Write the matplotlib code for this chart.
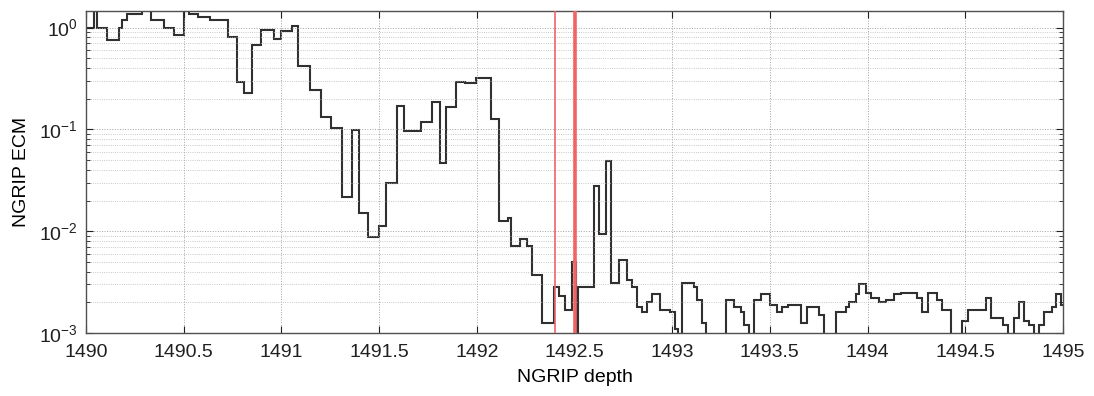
import matplotlib
matplotlib.use('Agg')
import matplotlib.pyplot as plt
from matplotlib.ticker import MultipleLocator, FormatStrFormatter, LogLocator

plt.rcParams['font.family'] = ['Liberation Sans', 'DejaVu Sans']
plt.rcParams['mathtext.default'] = 'regular'

# step edges (depth, m) and ECM value inside each step
depth_edges = [
    1490.000, 1490.041, 1490.056, 1490.107, 1490.169, 1490.184, 1490.210, 1490.287,
    1490.333, 1490.399, 1490.450, 1490.502, 1490.527, 1490.573, 1490.635, 1490.727,
    1490.773, 1490.809, 1490.850, 1490.896, 1490.962, 1490.998, 1491.054, 1491.085,
    1491.146, 1491.203, 1491.254, 1491.310, 1491.361, 1491.397, 1491.443, 1491.500,
    1491.535, 1491.592, 1491.627, 1491.714, 1491.771, 1491.812, 1491.842, 1491.894,
    1491.940, 1491.996, 1492.073, 1492.114, 1492.160, 1492.175, 1492.221, 1492.257,
    1492.283, 1492.334, 1492.395, 1492.421, 1492.451, 1492.487, 1492.508, 1492.518,
    1492.600, 1492.625, 1492.661, 1492.687, 1492.728, 1492.769, 1492.794, 1492.820,
    1492.845, 1492.871, 1492.897, 1492.938, 1492.989, 1493.014, 1493.030, 1493.050,
    1493.112, 1493.127, 1493.153, 1493.173, 1493.275, 1493.316, 1493.352, 1493.367,
    1493.393, 1493.419, 1493.454, 1493.500, 1493.536, 1493.562, 1493.593, 1493.659,
    1493.690, 1493.751, 1493.777, 1493.838, 1493.889, 1493.905, 1493.941, 1493.956,
    1493.992, 1494.017, 1494.058, 1494.094, 1494.135, 1494.171, 1494.253, 1494.278,
    1494.309, 1494.355, 1494.381, 1494.427, 1494.483, 1494.514, 1494.606, 1494.632,
    1494.693, 1494.719, 1494.749, 1494.775, 1494.800, 1494.826, 1494.852, 1494.877,
    1494.903, 1494.944, 1494.964, 1494.990, 1495.000,
]
ecm = [
    0.98, 2.0, 0.98, 0.75, 0.98, 1.18, 1.37, 1.48,
    1.18, 0.98, 0.84, 2.0, 1.37, 1.27, 1.18, 0.80,
    0.29, 0.225, 0.67, 0.94, 0.77, 0.92, 1.03, 0.42,
    0.245, 0.132, 0.104, 0.0215, 0.098, 0.0152, 0.0087, 0.0113,
    0.030, 0.17, 0.097, 0.119, 0.185, 0.047, 0.166, 0.295,
    0.285, 0.32, 0.126, 0.0125, 0.0135, 0.0072, 0.0083, 0.0071,
    0.0037, 0.00126, 0.0028, 0.0023, 0.0017, 0.0050, 0.0005, 0.0028,
    0.0277, 0.0093, 0.049, 0.0031, 0.0052, 0.0033, 0.0028, 0.0018,
    0.0016, 0.0020, 0.0024, 0.0017, 0.0016, 0.0011, 0.0005, 0.0031,
    0.0028, 0.0021, 0.00126, 0.0005, 0.0021, 0.0018, 0.0016, 0.0012,
    0.0005, 0.0021, 0.0024, 0.0019, 0.0016, 0.0018, 0.0019, 0.00126,
    0.0018, 0.0015, 0.0005, 0.0016, 0.0018, 0.0020, 0.0024, 0.0030,
    0.0025, 0.0022, 0.0020, 0.0021, 0.0024, 0.0025, 0.0022, 0.0016,
    0.0025, 0.0021, 0.0017, 0.0005, 0.0013, 0.0017, 0.0022, 0.0014,
    0.0012, 0.0005, 0.0014, 0.0020, 0.0013, 0.0012, 0.0005, 0.0012,
    0.0016, 0.0018, 0.0024, 0.0019,
]
marker_depths = [1492.40, 1492.505]
marker_widths = [1.2, 2.6]

fig = plt.figure(figsize=(10.94, 3.96), dpi=100)
ax = fig.add_axes([0.0786, 0.159, 0.893, 0.813])

ax.stairs(ecm, depth_edges, color='#303030', linewidth=1.5, baseline=None)
for d, w in zip(marker_depths, marker_widths):
    ax.axvline(d, color='#f06464', linewidth=w, zorder=3)

ax.set_yscale('log')
ax.set_xlim(1490, 1495)
ax.set_ylim(1e-3, 1.45)

ax.xaxis.set_major_locator(MultipleLocator(0.5))
ax.xaxis.set_major_formatter(FormatStrFormatter('%g'))
ax.yaxis.set_major_locator(LogLocator(base=10, numticks=10))
ax.yaxis.set_minor_locator(LogLocator(base=10, subs=range(2, 10), numticks=10))

ax.grid(True, which='major', linestyle=':', color='#a0a0a0', linewidth=0.7)
ax.grid(True, which='minor', axis='y', linestyle=':', color='#b8b8b8', linewidth=0.6)

ax.tick_params(which='both', direction='in', top=True, right=True, labelsize=14, colors='#202020')
ax.tick_params(which='major', length=5, width=0.8)
ax.tick_params(which='minor', length=3, width=0.6)
ax.tick_params(axis='x', pad=8)
ax.tick_params(axis='y', pad=6)
for s in ax.spines.values():
    s.set_color('#505050')
    s.set_linewidth(1.0)

ax.set_xlabel('NGRIP depth', fontsize=14, labelpad=6)
ax.set_ylabel('NGRIP ECM', fontsize=14, labelpad=6)

fig.savefig('out.png', dpi=100)
